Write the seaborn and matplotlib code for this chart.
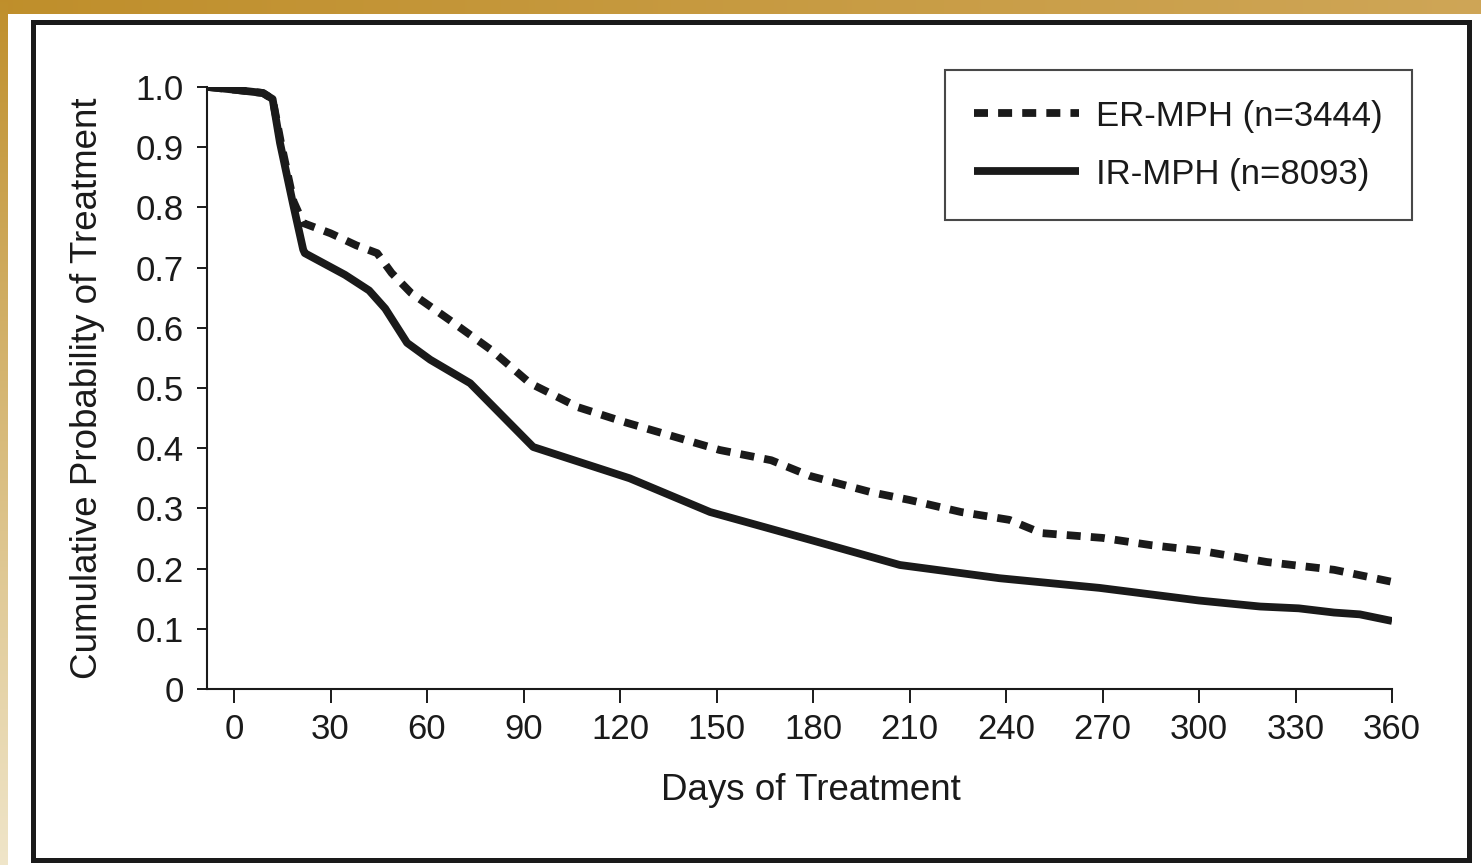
import numpy as np
import pandas as pd
import matplotlib
matplotlib.use("Agg")
import matplotlib.pyplot as plt
from matplotlib import font_manager as fm
from matplotlib.patches import Rectangle
import seaborn as sns

# ---- data ----
er_label = "ER-MPH (n=3444)"
ir_label = "IR-MPH (n=8093)"
er_days = [-8, 1, 9, 12, 14.5, 18.5, 21.5, 30, 38, 44.5, 49, 55, 67, 80, 92, 107, 121,
           151, 167, 179, 198, 210, 226, 241, 251, 270, 285, 300, 321, 342, 360]
er_prob = [1.0, 0.995, 0.99, 0.98, 0.91, 0.81, 0.774, 0.757, 0.737, 0.724, 0.691, 0.658,
           0.613, 0.563, 0.508, 0.468, 0.444, 0.397, 0.380, 0.354, 0.327, 0.314, 0.294,
           0.281, 0.259, 0.251, 0.239, 0.230, 0.211, 0.198, 0.178]
ir_days = [-8, 1, 9, 12, 14.3, 18.3, 21.5, 22, 34.5, 42, 47, 53.8, 61, 73.4, 93, 123,
           148, 179, 207, 238, 269, 300, 319, 331, 342, 350, 360]
ir_prob = [1.0, 0.995, 0.99, 0.98, 0.907, 0.807, 0.73, 0.724, 0.688, 0.662, 0.632, 0.575,
           0.547, 0.508, 0.402, 0.35, 0.294, 0.248, 0.206, 0.184, 0.168, 0.147, 0.137,
           0.134, 0.127, 0.124, 0.113]
x_ticks = [0, 30, 60, 90, 120, 150, 180, 210, 240, 270, 300, 330, 360]
y_ticks = [0, 0.1, 0.2, 0.3, 0.4, 0.5, 0.6, 0.7, 0.8, 0.9, 1.0]
y_tick_labels = ["0", "0.1", "0.2", "0.3", "0.4", "0.5", "0.6", "0.7", "0.8", "0.9", "1.0"]

df = pd.concat([
    pd.DataFrame({"day": er_days, "prob": er_prob, "group": er_label}),
    pd.DataFrame({"day": ir_days, "prob": ir_prob, "group": ir_label}),
], ignore_index=True)

sns.set_theme(style="white")
avail = {f.name for f in fm.fontManager.ttflist}
fam = "Liberation Sans Narrow" if "Liberation Sans Narrow" in avail else "Liberation Sans"
plt.rcParams["font.family"] = [fam, "DejaVu Sans"]
ink = "#1a1a1a"

W, H = 1481, 865
fig = plt.figure(figsize=(W / 100, H / 100), dpi=100)

# background with gold border
bg = fig.add_axes([0, 0, 1, 1])
img = np.ones((H, W, 3))
gold_l = np.array([0.75, 0.56, 0.17])
gold_r = np.array([0.81, 0.65, 0.34])
t = np.linspace(0, 1, W)[:, None]
img[:14, :, :] = (gold_l * (1 - t) + gold_r * t)[None, :, :]
cream = np.array([0.94, 0.90, 0.79])
s = np.linspace(0, 1, H)[:, None]
img[:, :8, :] = (gold_l * (1 - s) + cream * s)[:, None, :]
bg.imshow(img, aspect="auto", extent=[0, 1, 0, 1], interpolation="bilinear")
bg.set_axis_off()

fig.patches.append(Rectangle((33 / W, 1 - 860 / H), (1469 - 33) / W, (860 - 22) / H,
                             transform=fig.transFigure, fill=False, edgecolor=ink,
                             linewidth=3.6, zorder=5))

ax = fig.add_axes([207 / W, 1 - 689 / H, (1392 - 207) / W, (689 - 87) / H])
ax.set_facecolor("white")
ax.patch.set_alpha(0)

sns.lineplot(data=df, x="day", y="prob", style="group",
             style_order=[er_label, ir_label],
             dashes={er_label: (1.8, 1.3), ir_label: ""},
             color=ink, linewidth=5.6, sort=False, estimator=None,
             legend=False, ax=ax)
for ln in ax.lines:
    ln.set_solid_capstyle("butt")
    ln.set_dash_capstyle("butt")
    ln.set_solid_joinstyle("round")

ax.set_xlim(-8.4, 360)
ax.set_ylim(0, 1.0)
ax.set_xticks(x_ticks)
ax.set_xticklabels([str(v) for v in x_ticks])
ax.set_yticks(y_ticks)
ax.set_yticklabels(y_tick_labels)
for side in ["top", "right"]:
    ax.spines[side].set_visible(False)
for side in ["left", "bottom"]:
    ax.spines[side].set_linewidth(1.5)
    ax.spines[side].set_color(ink)
ax.tick_params(axis="x", direction="out", length=10, width=1.4, color=ink,
               labelsize=25, labelcolor=ink, pad=7, bottom=True)
ax.tick_params(axis="y", direction="out", length=7.5, width=1.4, color=ink,
               labelsize=25, labelcolor=ink, pad=9, left=True)
ax.set_xlabel("Days of Treatment", fontsize=26.5, color=ink)
ax.xaxis.set_label_coords(0.51, -0.14)
ax.xaxis.label.set_va("top")
ax.set_ylabel("Cumulative Probability of Treatment", fontsize=26.5, color=ink, labelpad=22)

leg = ax.legend(ax.lines[:2], [er_label, ir_label], loc="upper right",
                bbox_to_anchor=(1412 / W, 1 - 70 / H), bbox_transform=fig.transFigure,
                borderaxespad=0, fontsize=25, frameon=True, fancybox=False,
                handlelength=3.0, handletextpad=0.5, labelspacing=0.72,
                borderpad=0.85)
leg.get_frame().set_edgecolor(ink)
leg.get_frame().set_linewidth(1.5)
for txt in leg.get_texts():
    txt.set_color(ink)

fig.savefig("out.png", dpi=100)
